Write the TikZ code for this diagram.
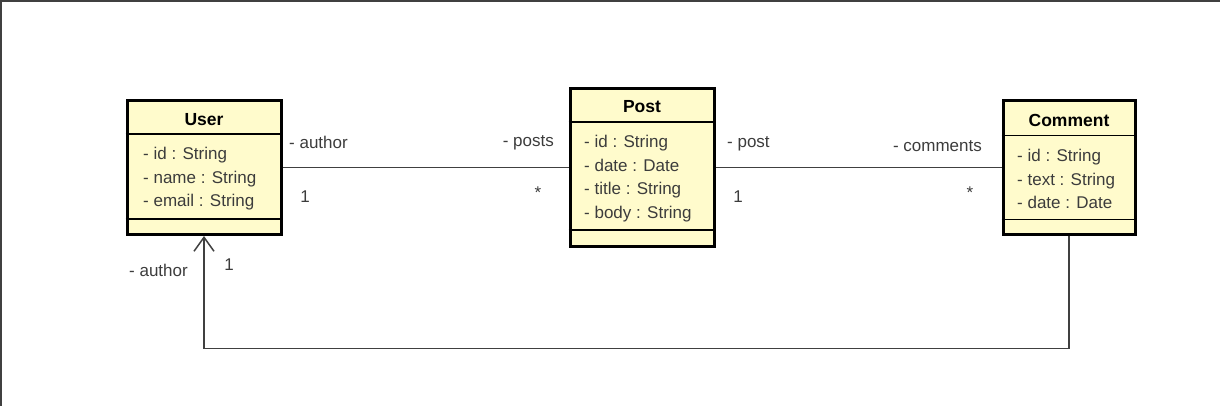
\documentclass[tikz,border=0pt]{standalone}
\usepackage{fontspec}
\setmainfont{Liberation Sans}
\usetikzlibrary{positioning,arrows.meta}
\definecolor{classfill}{RGB}{255,251,204}
\definecolor{textgray}{RGB}{60,60,60}
\definecolor{linegray}{RGB}{64,64,64}

\begin{document}
\begin{tikzpicture}
[x=1pt,y=-1pt,
 classbox/.style={draw=black,line width=3pt,fill=classfill,inner sep=0pt},
 divider/.style={draw=black,line width=1.3pt},
 classname/.style={font=\fontsize{17.5}{20}\selectfont\bfseries,text=black,inner sep=0pt},
 attrs/.style={font=\fontsize{17}{23.5}\selectfont,text=textgray,align=left,inner sep=0pt,anchor=west},
 role/.style={font=\fontsize{17}{20}\selectfont,text=textgray,inner sep=0pt},
 assoc/.style={draw=linegray,line width=1.5pt}]
\useasboundingbox (0,0) rectangle (1220,406);
\draw[linegray,line width=2pt] (1,406) -- (1,1) -- (1220,1);

% classes
\node[classbox,minimum width=154pt,minimum height=134pt] (user) at (204,167.5) {};
\node[classbox,minimum width=144pt,minimum height=158pt] (post) at (642,167.5) {};
\node[classbox,minimum width=132pt,minimum height=133pt] (comment) at (1069,167.5) {};
\draw[divider] (user.north west) ++(0,35) -- ++(154,0);
\draw[divider] (user.south west) ++(0,-17) -- ++(154,0);
\draw[divider] (post.north west) ++(0,35) -- ++(144,0);
\draw[divider] (post.south west) ++(0,-18) -- ++(144,0);
\draw[divider] (comment.north west) ++(0,36) -- ++(132,0);
\draw[divider] (comment.south west) ++(0,-16) -- ++(132,0);

\node[classname] (userT) at (204,120) {User};
\node[classname] (postT) at (642,107) {Post};
\node[classname] (commentT) at (1069,120) {Comment};
\node[attrs] (userA) at (143,179) {- id : String\\- name : String\\- email : String};
\node[attrs] (postA) at (584,178.5) {- id : String\\- date : Date\\- title : String\\- body : String};
\node[attrs] (commentA) at (1017,179) {- id : String\\- text : String\\- date : Date};

% associations
\draw[assoc] (user) -- (post);
\draw[assoc] (post) -- (comment);
\draw[assoc,-{Straight Barb[length=14pt,width=20pt]}] (comment.south) -- ++(0,113) -| (user.south);

% roles and multiplicities
\node[role,anchor=west] (r1) at (289,142) {- author};
\node[role] (m1) at (305,197) {1};
\node[role,anchor=east] (r2) at (554,143) {- posts};
\node[role] (m2) at (538,193) {*};
\node[role,anchor=west] (r3) at (727,144) {- post};
\node[role] (m3) at (738,197) {1};
\node[role,anchor=east] (r4) at (982,146) {- comments};
\node[role] (m4) at (970,193) {*};
\node[role,anchor=east] (r5) at (188,270) {- author};
\node[role] (m5) at (229,265) {1};
\end{tikzpicture}
\end{document}
